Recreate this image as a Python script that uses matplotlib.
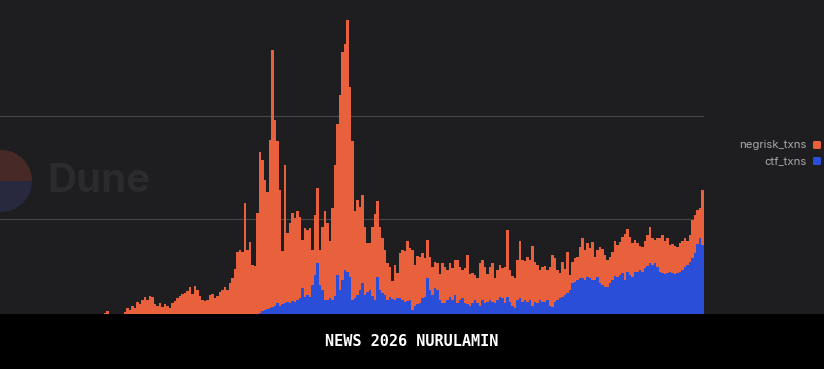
import numpy as np
import matplotlib.pyplot as plt
from matplotlib.patches import Rectangle, Wedge, FancyBboxPatch

# daily transactions, thousands (bars from left to right)
negrisk_txns = [
    9, 11, 8, 8, 7, 7, 7, 8, 10, 14, 12, 16, 14, 19, 17, 21, 24, 21, 25, 24,
    17, 16, 18, 15, 17, 16, 14, 18, 20, 23, 23, 25, 25, 28, 31, 24, 33, 28, 21, 18,
    17, 17, 23, 23, 19, 22, 25, 26, 30, 27,
    34, 39, 46, 63, 65, 62, 110, 64, 71, 48, 47, 98, 156, 146, 126, 113, 163, 249, 180, 158,
    112, 52, 134, 67, 78, 86, 82, 87, 79, 47, 67, 63,
    67, 34, 58, 73, 34, 61, 87, 75, 56, 90, 127, 146, 189, 221, 220, 244, 184, 155,
    85, 92, 81, 85, 66, 48, 46, 67, 84, 73, 61, 54, 44, 36,
    29, 18, 34, 25, 44, 49, 50, 59, 51, 58, 39, 47, 45, 44, 38, 37, 32, 27, 25, 26,
    26, 39, 35, 29, 33, 31, 34, 42, 32, 27, 34, 48, 31, 30, 25, 25, 41, 39, 35, 28,
    32, 38, 25, 29,
    31, 29, 35, 65, 31, 29, 29, 39, 56, 41, 38, 44, 39, 58, 39, 37, 29, 34, 35, 29,
    37, 50, 43, 29, 25, 34, 25, 40, 15, 20, 23, 22, 30, 39, 29, 33, 29, 37, 22, 26,
    35, 35, 31, 26, 25, 27, 34, 31, 32, 35, 44, 41, 37, 33, 31, 28, 24, 24, 27, 30,
    35, 27, 23, 29, 33, 36, 32, 34, 26, 28, 27, 25, 28, 29, 29, 24, 26, 37, 37, 33,
    29, 53,
]
ctf_txns = [
    0, 0, 0, 0, 0, 0, 0, 0, 0, 0, 0, 0, 0, 0, 0, 0, 0, 0, 0, 0,
    0, 0, 0, 0, 0, 0, 0, 0, 0, 0, 2, 2, 3, 2, 3, 3, 2, 3, 4, 3,
    3, 4, 3, 4, 4, 3, 4, 5, 4, 4,
    4, 4, 5, 5, 5, 6, 6, 6, 7, 7, 7, 8, 9, 11, 12, 13, 14, 15, 16, 18,
    16, 17, 18, 19, 18, 20, 19, 21, 23, 33, 24, 26,
    24, 36, 46, 57, 36, 31, 21, 21, 23, 21, 25, 46, 31, 41, 50, 49, 44, 21,
    23, 26, 31, 38, 26, 29, 31, 25, 21, 44, 31, 28, 26, 21,
    24, 22, 21, 23, 23, 21, 19, 20, 21, 12, 16, 17, 18, 23, 24, 43, 31, 26, 33, 31,
    21, 18, 18, 21, 24, 21, 26, 18, 21, 23, 18, 17, 16, 18, 21, 18, 16, 21, 18, 19,
    21, 19, 18, 21,
    24, 23, 18, 24, 19, 16, 14, 21, 23, 19, 21, 19, 21, 16, 19, 18, 21, 19, 19, 21,
    16, 15, 19, 21, 23, 24, 26, 28, 31, 38, 39, 41, 43, 43, 41, 44, 43, 41, 41, 44,
    38, 36, 34, 34, 38, 41, 45, 44, 46, 48, 41, 49, 46, 44, 49, 49, 50, 49, 52, 54,
    57, 55, 57, 53, 49, 48, 47, 48, 49, 48, 47, 48, 49, 50, 53, 55, 58, 62, 67, 76,
    82, 75,
]
series = ['negrisk_txns', 'ctf_txns']

bg = '#1e1e20'
orange = '#e8603c'
blue = '#2b4ed8'

fig = plt.figure(figsize=(8.24, 3.69), dpi=100, facecolor=bg)

# watermark and overlay layer in pixel coordinates
wm = fig.add_axes([0, 0, 1, 1], zorder=0)
wm.set_xlim(0, 824)
wm.set_ylim(369, 0)
wm.axis('off')
wm.add_patch(Wedge((1, 181), 31, 185, 360, color='#472a27', lw=0))
wm.add_patch(Wedge((1, 181), 31, 0, 185, color='#28283e', lw=0))
wm.text(47, 181, 'Dune', fontsize=29, fontweight='bold', family='Inter',
        color='#2b2b2e', va='center', ha='left')

ax = fig.add_axes([0, 47 / 369, 704 / 824, 312 / 369], zorder=1)
ax.patch.set_alpha(0)
x = np.arange(len(negrisk_txns))
ax.bar(x, ctf_txns, width=0.85, color=blue, lw=0, zorder=2)
ax.bar(x, negrisk_txns, bottom=ctf_txns, width=0.85, color=orange, lw=0, zorder=2)
ax.set_xlim(-42, 239.6)
ax.set_ylim(0, 302.9)
ax.set_yticks([100, 200])
ax.grid(axis='y', color='#48484a', lw=0.8, zorder=0)
ax.tick_params(left=False, bottom=False, labelleft=False, labelbottom=False)
for s in ax.spines.values():
    s.set_visible(False)

# legend on the right
top = fig.add_axes([0, 0, 1, 1], zorder=2)
top.set_xlim(0, 824)
top.set_ylim(369, 0)
top.axis('off')
cols = [orange, blue]
for i, name in enumerate(series):
    yy = 145 + 16 * i
    top.text(807, yy, name, fontsize=8.2, family='Inter', color='#a9a9ad',
             ha='right', va='center')
    top.add_patch(FancyBboxPatch((813, yy - 4), 8, 8, boxstyle='round,pad=0,rounding_size=1.5',
                                 color=cols[i], lw=0))

# bottom banner
top.add_patch(Rectangle((0, 314), 824, 55, color='black', lw=0))
top.text(412, 342, 'NEWS 2026 NURULAMIN', fontsize=11,
         family='DejaVu Sans Mono', fontweight='bold', color='white',
         ha='center', va='center')

fig.savefig('out.png', dpi=100, facecolor=bg)
